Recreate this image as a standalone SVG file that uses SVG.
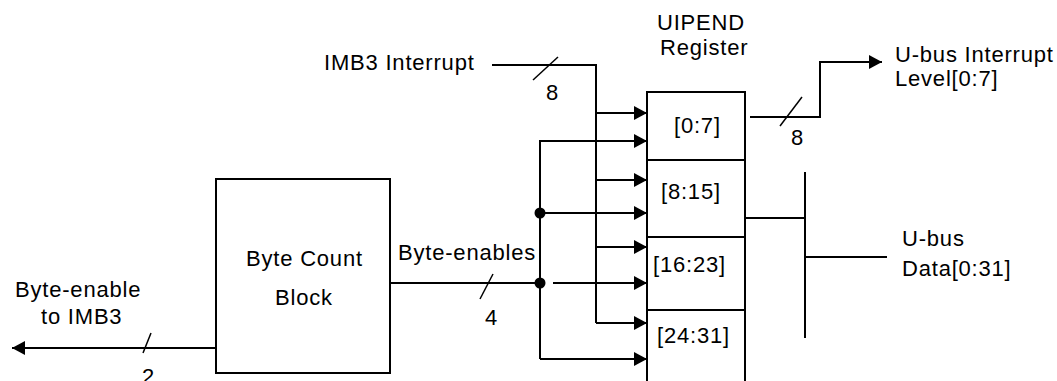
<svg xmlns="http://www.w3.org/2000/svg" width="1057" height="381" viewBox="0 0 1057 381">
<style>
text{font-family:"Liberation Sans",Arial,sans-serif;font-size:22px;letter-spacing:0.8px;fill:#000}
.w{fill:none;stroke:#000;stroke-width:2}
.a{marker-end:url(#ah)}
.box{fill:#fff;stroke:#000;stroke-width:2}
.sl{stroke:#000;stroke-width:1.5}
</style>
<defs>
<marker id="ah" markerWidth="14" markerHeight="14" refX="13" refY="7" orient="auto" markerUnits="userSpaceOnUse"><path d="M0,0 L13,7 L0,14 z" fill="#000"/></marker>
</defs>
<g id="connectors">
<path class="w" d="M492,65 H596 V323"/>
<path class="w a" d="M596,113 H647"/>
<path class="w a" d="M596,180 H647"/>
<path class="w a" d="M596,247 H647"/>
<path class="w a" d="M596,323 H647"/>
<path class="w a" d="M540,359 V141 H647"/>
<path class="w a" d="M540,359 H647"/>
<path class="w a" d="M540,213 H647"/>
<path class="w a" d="M553,283 H647"/>
<path class="w" d="M390,283 H540"/>
<circle cx="540" cy="213" r="5.5"/>
<circle cx="540" cy="283" r="5.5"/>
<path class="w a" d="M216,348 H12"/>
<path class="w a" d="M750,117 H820 V62 H882"/>
<path class="w" d="M745,218 H805 M805,172 V338 M805,257 H887"/>
<line class="sl" x1="533" y1="80" x2="558" y2="57"/>
<line class="sl" x1="780" y1="126" x2="802" y2="97"/>
<line class="sl" x1="480" y1="299" x2="493" y2="274"/>
<line class="sl" x1="143" y1="353" x2="151" y2="333"/>
<text x="546" y="100">8</text>
<text x="791" y="145">8</text>
<text x="485" y="325">4</text>
<text x="142" y="384">2</text>
<text x="324" y="70">IMB3 Interrupt</text>
<text x="398" y="260">Byte-enables</text>
<text x="15" y="297">Byte-enable</text>
<text x="41" y="324">to IMB3</text>
<text x="895" y="62">U-bus Interrupt</text>
<text x="895" y="86">Level[0:7]</text>
<text x="902" y="246">U-bus</text>
<text x="902" y="276">Data[0:31]</text>
</g>
<g id="byte-count-block">
<rect class="box" x="216" y="179" width="174" height="194"/>
<text x="246" y="266">Byte Count</text>
<text x="275" y="305">Block</text>
</g>
<g id="uipend-register">
<text x="657" y="30">UIPEND</text>
<text x="660" y="55">Register</text>
<rect class="box" x="647" y="92" width="98" height="300"/>
<path class="w" d="M647,160 H745 M647,237 H745 M647,310 H745"/>
<text x="674" y="133">[0:7]</text>
<text x="661" y="199">[8:15]</text>
<text x="653" y="272">[16:23]</text>
<text x="657" y="343">[24:31]</text>
</g>
</svg>
